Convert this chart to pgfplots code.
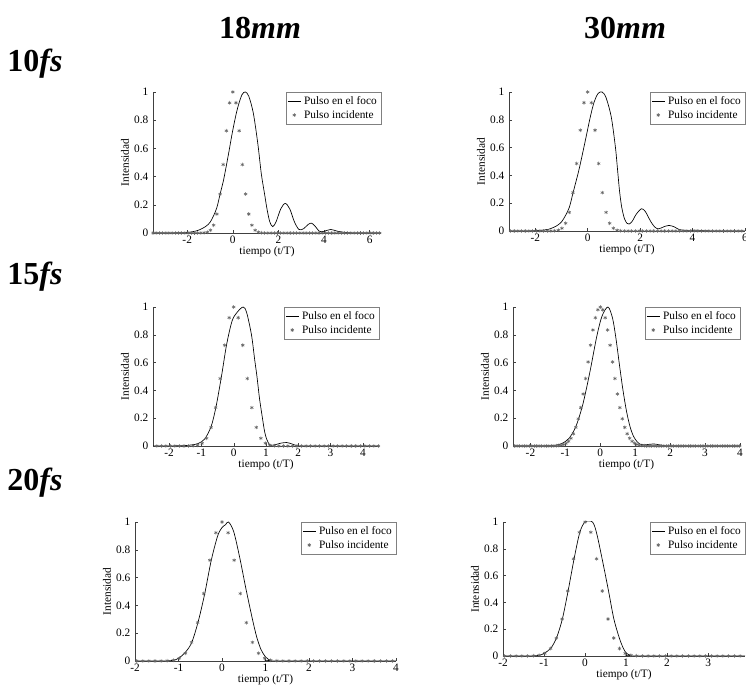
\documentclass[border=0pt]{standalone}
\usepackage{fontspec}
\setmainfont{Liberation Serif}
\usepackage{pgfplots}
\usepackage{pgfplotstable}
\pgfplotsset{compat=1.18}

% incident pulse, step 0.14
\pgfplotstableread{
x y
-3.50 0
-3.36 0
-3.22 0
-3.08 0
-2.94 0
-2.80 0
-2.66 0
-2.52 0
-2.38 0
-2.24 0
-2.10 0
-1.96 0
-1.82 0
-1.68 0
-1.54 0
-1.40 0.0003
-1.26 0.0015
-1.12 0.0058
-0.98 0.0195
-0.84 0.0554
-0.70 0.134
-0.56 0.276
-0.42 0.485
-0.28 0.725
-0.14 0.923
0 1
0.14 0.923
0.28 0.725
0.42 0.485
0.56 0.276
0.70 0.134
0.84 0.0554
0.98 0.0195
1.12 0.0058
1.26 0.0015
1.40 0.0003
1.54 0
1.68 0
1.82 0
1.96 0
2.10 0
2.24 0
2.38 0
2.52 0
2.66 0
2.80 0
2.94 0
3.08 0
3.22 0
3.36 0
3.50 0
3.64 0
3.78 0
3.92 0
4.06 0
4.20 0
4.34 0
4.48 0
4.62 0
4.76 0
4.90 0
5.04 0
5.18 0
5.32 0
5.46 0
5.60 0
5.74 0
5.88 0
6.02 0
6.16 0
6.30 0
6.44 0
}\incA

% incident pulse, step 0.07
\pgfplotstableread{
x y
-2.52 0
-2.45 0
-2.38 0
-2.31 0
-2.24 0
-2.17 0
-2.10 0
-2.03 0
-1.96 0
-1.89 0
-1.82 0
-1.75 0
-1.68 0
-1.61 0
-1.54 0
-1.47 0
-1.40 0.0003
-1.33 0.0007
-1.26 0.0015
-1.19 0.003
-1.12 0.0058
-1.05 0.0109
-0.98 0.0195
-0.91 0.0335
-0.84 0.0554
-0.77 0.088
-0.70 0.134
-0.63 0.196
-0.56 0.276
-0.49 0.374
-0.42 0.485
-0.35 0.605
-0.28 0.725
-0.21 0.835
-0.14 0.923
-0.07 0.980
0 1
0.07 0.980
0.14 0.923
0.21 0.835
0.28 0.725
0.35 0.605
0.42 0.485
0.49 0.374
0.56 0.276
0.63 0.196
0.70 0.134
0.77 0.088
0.84 0.0554
0.91 0.0335
0.98 0.0195
1.05 0.0109
1.12 0.0058
1.19 0.003
1.26 0.0015
1.33 0.0007
1.40 0.0003
1.47 0
1.54 0
1.61 0
1.68 0
1.75 0
1.82 0
1.89 0
1.96 0
2.03 0
2.10 0
2.17 0
2.24 0
2.31 0
2.38 0
2.45 0
2.52 0
2.59 0
2.66 0
2.73 0
2.80 0
2.87 0
2.94 0
3.01 0
3.08 0
3.15 0
3.22 0
3.29 0
3.36 0
3.43 0
3.50 0
3.57 0
3.64 0
3.71 0
3.78 0
3.85 0
3.92 0
3.99 0
}\incB

\pgfplotstableread{
x y
-3.5 0
-2.2 0.002
-1.8 0.008
-1.5 0.02
-1.2 0.045
-1.0 0.075
-0.85 0.12
-0.7 0.18
-0.55 0.28
-0.4 0.38
-0.2 0.55
0 0.73
0.2 0.88
0.4 0.98
0.55 1.0
0.7 0.97
0.9 0.85
1.1 0.63
1.25 0.42
1.39 0.28
1.5 0.17
1.62 0.08
1.75 0.045
1.9 0.08
2.1 0.17
2.3 0.21
2.5 0.17
2.7 0.08
2.9 0.025
3.1 0.03
3.3 0.06
3.45 0.07
3.6 0.05
3.8 0.012
4.0 0.012
4.3 0.025
4.6 0.012
5.0 0.003
5.5 0
6.5 0
}\focA

\pgfplotstableread{
x y
-3 0
-2.2 0.001
-1.8 0.005
-1.5 0.012
-1.2 0.035
-1.0 0.065
-0.85 0.11
-0.7 0.17
-0.55 0.28
-0.32 0.45
-0.09 0.65
0.1 0.82
0.25 0.93
0.4 0.99
0.55 1.0
0.7 0.96
0.9 0.82
1.06 0.6
1.14 0.44
1.22 0.28
1.3 0.17
1.4 0.09
1.5 0.055
1.58 0.05
1.7 0.07
1.85 0.12
2.05 0.16
2.2 0.14
2.4 0.07
2.55 0.03
2.7 0.015
2.9 0.03
3.1 0.04
3.3 0.03
3.5 0.01
3.8 0.004
4.1 0.006
4.5 0.002
5 0
6 0
}\focB

\pgfplotstableread{
x y
-2.5 0
-1.6 0.002
-1.3 0.008
-1.1 0.018
-0.9 0.05
-0.7 0.14
-0.55 0.28
-0.38 0.5
-0.22 0.73
-0.05 0.9
0.1 0.96
0.29 1.0
0.4 0.96
0.55 0.8
0.65 0.62
0.72 0.5
0.8 0.34
0.89 0.2
0.96 0.1
1.02 0.05
1.1 0.012
1.15 0.005
1.3 0.01
1.45 0.02
1.64 0.025
1.8 0.015
1.95 0.003
2.2 0
4.5 0
}\focC

\pgfplotstableread{
x y
-2.5 0
-1.6 0.001
-1.3 0.005
-1.1 0.018
-0.9 0.054
-0.7 0.14
-0.5 0.30
-0.3 0.53
-0.1 0.79
0.05 0.935
0.22 1.0
0.35 0.92
0.45 0.77
0.55 0.58
0.65 0.40
0.75 0.25
0.85 0.14
0.95 0.07
1.05 0.032
1.15 0.012
1.25 0.008
1.4 0.012
1.53 0.015
1.7 0.008
1.85 0.002
2.0 0
4.0 0
}\focD

\pgfplotstableread{
x y
-2 0
-1.2 0.002
-1.0 0.02
-0.85 0.06
-0.7 0.13
-0.55 0.28
-0.4 0.48
-0.25 0.72
-0.1 0.9
0.0 0.96
0.08 0.98
0.15 1.0
0.27 0.93
0.41 0.74
0.55 0.52
0.7 0.3
0.8 0.17
0.9 0.08
1.0 0.03
1.1 0.006
1.2 0
4 0
}\focE

\pgfplotstableread{
x y
-2 0
-1.2 0.002
-1.0 0.02
-0.83 0.06
-0.69 0.14
-0.55 0.28
-0.41 0.49
-0.27 0.72
-0.13 0.92
0.0 1.0
0.18 1.0
0.28 0.92
0.42 0.72
0.57 0.49
0.7 0.28
0.83 0.14
0.93 0.06
1.01 0.02
1.1 0.005
1.2 0
3.9 0
}\focF

\newcommand{\sm}{\fontsize{8.5}{9}\selectfont}
\pgfplotsset{
  panel/.style={
    scale only axis,
    axis x line=bottom, axis y line=left,
    axis line style={-, draw=black!75, line width=0.4pt},
    ymin=0, ymax=1, ytick={0,0.2,0.4,0.6,0.8,1},
    tick align=inside, major tick length=2pt,
    tick style={black!75, line width=0.3pt},
    tick label style={font=\sm},
    label style={font=\sm},
    xticklabel style={yshift=1pt},
    /pgf/number format/assume math mode=true,
    xlabel={tiempo (t/T)}, ylabel={Intensidad},
    xlabel style={yshift=5pt}, ylabel style={yshift=-3pt},
    legend style={at={(1,1)}, anchor=north east, draw=black!50, line width=0.3pt,
      font=\sm, inner sep=1pt, row sep=-1pt, legend cell align=left},
    legend image code/.code={\draw[mark repeat=2,mark phase=2,##1] plot coordinates {(0cm,0cm) (0.17cm,0cm) (0.35cm,0cm)};},
  },
  foc/.style={black, line width=0.5pt, smooth, tension=0.5},
  inc/.style={only marks, black!60, mark=asterisk, mark size=1.4pt, mark options={line width=0.4pt}},
}

\begin{document}
\begin{tikzpicture}
\useasboundingbox (0,0) rectangle (559.5pt,513.75pt);

\node[font=\fontsize{24}{24}\selectfont\bfseries] at (195pt,492.75pt) {18\textit{mm}};
\node[font=\fontsize{24}{24}\selectfont\bfseries] at (468.75pt,492.75pt) {30\textit{mm}};
\node[font=\fontsize{24}{24}\selectfont\bfseries] at (26.25pt,465.75pt) {10\textit{fs}};
\node[font=\fontsize{24}{24}\selectfont\bfseries] at (26.25pt,306pt) {15\textit{fs}};
\node[font=\fontsize{24}{24}\selectfont\bfseries] at (26.25pt,151.5pt) {20\textit{fs}};

% 10fs 18mm
\begin{axis}[panel, at={(114.75pt,339pt)}, anchor=south west, width=171pt, height=105.75pt,
  xmin=-3.5, xmax=6.5, xtick={-2,0,2,4,6}]
\addplot[foc] table {\focA};
\addplot[inc] table {\incA};
\legend{Pulso en el foco, Pulso incidente}
\end{axis}

% 10fs 30mm
\begin{axis}[panel, at={(381.75pt,340.5pt)}, anchor=south west, width=177pt, height=104.25pt,
  xmin=-3, xmax=6, xtick={-2,0,2,4,6}]
\addplot[foc] table {\focB};
\addplot[inc] table {\incA};
\legend{Pulso en el foco, Pulso incidente}
\end{axis}

% 15fs 18mm
\begin{axis}[panel, at={(114.75pt,179.25pt)}, anchor=south west, width=169.5pt, height=104.25pt,
  xmin=-2.5, xmax=4.5, xtick={-2,-1,0,1,2,3,4}]
\addplot[foc] table {\focC};
\addplot[inc] table {\incA};
\legend{Pulso en el foco, Pulso incidente}
\end{axis}

% 15fs 30mm
\begin{axis}[panel, at={(384.75pt,179.25pt)}, anchor=south west, width=170.25pt, height=104.25pt,
  xmin=-2.5, xmax=4, xtick={-2,-1,0,1,2,3,4}]
\addplot[foc] table {\focD};
\addplot[inc] table {\incB};
\legend{Pulso en el foco, Pulso incidente}
\end{axis}

% 20fs 18mm
\begin{axis}[panel, at={(101.25pt,18pt)}, anchor=south west, width=195.75pt, height=104.25pt,
  xmin=-2, xmax=4, xtick={-2,-1,0,1,2,3,4}]
\addplot[foc] table {\focE};
\addplot[inc] table {\incA};
\legend{Pulso en el foco, Pulso incidente}
\end{axis}

% 20fs 30mm
\begin{axis}[panel, at={(377.25pt,21.75pt)}, anchor=south west, width=181.5pt, height=100.5pt,
  xmin=-2, xmax=3.9, xtick={-2,-1,0,1,2,3}]
\addplot[foc] table {\focF};
\addplot[inc] table {\incA};
\legend{Pulso en el foco, Pulso incidente}
\end{axis}
\end{tikzpicture}
\end{document}
